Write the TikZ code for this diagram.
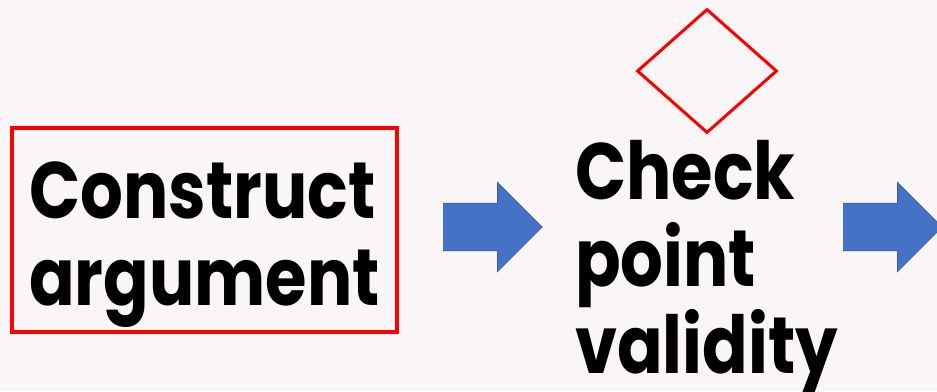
\documentclass[tikz,border=0pt]{standalone}
\usepackage{fontspec}
\setmainfont[FakeStretch=0.84]{Poppins}
\usepackage{xcolor}
\usetikzlibrary{positioning, shapes.geometric, shapes.arrows}
\definecolor{slidebg}{HTML}{FAF6F7}
\definecolor{boxred}{HTML}{FF0000}
\definecolor{flowblue}{HTML}{4472C4}

\begin{document}
\begin{tikzpicture}[
    x=1pt, y=1pt,
    steptext/.style={inner sep=0pt, align=left, font=\fontsize{80}{87}\selectfont\bfseries},
    flowarrow/.style={single arrow, draw=flowblue!80!black, line width=0.6pt, fill=flowblue, inner xsep=0pt, inner ysep=23.5pt, minimum height=99pt, single arrow head extend=21pt, single arrow tip angle=90, anchor=tail},
]
    % Slide background
    \fill[slidebg] (0,0) rectangle (937,391);
    \useasboundingbox (0,0) rectangle (937,391);

    % First step, boxed
    \node[draw=boxred, line width=4pt, minimum width=385pt, minimum height=204pt] (construct box) at (204.5,161) {};
    \node[steptext, yshift=-15pt] (construct) at (construct box.center) {Construct\\argument};

    % Block arrows
    \node[flowarrow] (arrowA) at (443,164) {};
    \node[flowarrow] (arrowB) at (843,164) {};

    % Decision marker
    \node[diamond, draw=boxred, line width=3pt, minimum width=140pt, minimum height=124pt, inner sep=0pt] (check mark) at (707,320) {};

    % Second step
    \node[steptext, anchor=north west] (check) at (575,251) {Check\\point\\validity};
\end{tikzpicture}
\end{document}
